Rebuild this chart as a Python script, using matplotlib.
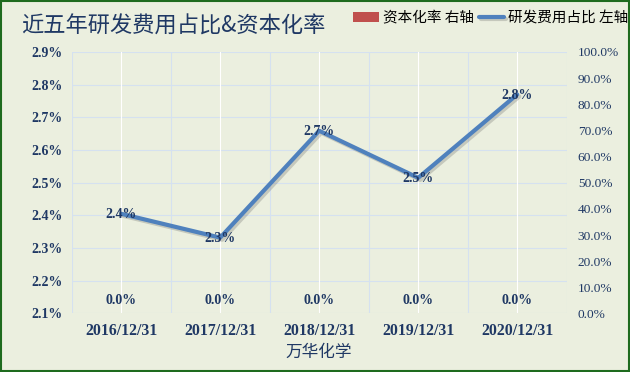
import numpy as np
import matplotlib.pyplot as plt
import matplotlib.patheffects as pe

plt.rcParams['font.family'] = ['Noto Sans CJK SC', 'DejaVu Sans']

# datos
fechas = ['2016/12/31', '2017/12/31', '2018/12/31', '2019/12/31', '2020/12/31']
rd_ratio = [2.405, 2.332, 2.659, 2.515, 2.77]   # 研发费用占比 (%)
cap_rate = [0.0, 0.0, 0.0, 0.0, 0.0]            # 资本化率 (%)
left_ticks = [2.1, 2.2, 2.3, 2.4, 2.5, 2.6, 2.7, 2.8, 2.9]
right_ticks = list(range(0, 101, 10))

navy = '#1F3864'
bg = '#EBEFDF'
grid_c = '#D5E1F0'

fig = plt.figure(figsize=(6.3, 3.72), dpi=100, facecolor=bg)
fig.patches.append(plt.Rectangle((0.0015, 0.0025), 0.997, 0.995, transform=fig.transFigure,
                                 fill=False, edgecolor='#1E6B1E', linewidth=1.5))

ax = fig.add_axes([0.1138, 0.1573, 0.7857, 0.703])
ax2 = ax.twinx()

x = np.arange(len(fechas))

# barras (资本化率, eje derecho)
bars = ax2.bar(x, cap_rate, width=0.5, color='#C0504D', label='资本化率 右轴')
for xi, v in zip(x, cap_rate):
    ax2.annotate('%.1f%%' % v, (xi, v), xytext=(0, 9), textcoords='offset points',
                 ha='center', va='center', fontsize=10, fontweight='bold',
                 family='Liberation Serif', color=navy)
ax2.set_ylim(0, 100)
ax2.set_yticks(right_ticks)
ax2.set_yticklabels(['%.1f%%' % t for t in right_ticks], family='Liberation Serif',
                    fontsize=9.6, color=navy)

# linea (研发费用占比, eje izquierdo) por encima de las barras
ax.set_zorder(ax2.get_zorder() + 1)
ax.patch.set_visible(False)
ax2.patch.set_facecolor(bg)
line, = ax.plot(x, rd_ratio, color='#4F81BD', linewidth=3, label='研发费用占比 左轴',
                solid_capstyle='round',
                path_effects=[pe.SimpleLineShadow(offset=(1.5, -1.5), alpha=0.25, shadow_color='#555555'),
                              pe.Normal()])
for xi, v in zip(x, rd_ratio):
    ax.annotate('%.1f%%' % v, (xi, v), xytext=(0, -0.5), textcoords='offset points',
                ha='center', va='center', fontsize=10, fontweight='bold',
                family='Liberation Serif', color=navy)

ax.set_ylim(2.1, 2.9)
ax.set_yticks(left_ticks)
ax.set_yticklabels(['%.1f%%' % t for t in left_ticks], family='Liberation Serif',
                   fontsize=10, fontweight='bold', color=navy)
ax.set_xlim(-0.5, len(fechas) - 0.5)
ax.set_xticks(x)
ax.set_xticklabels(fechas, family='Liberation Serif', fontsize=11.4, fontweight='bold', color=navy)
ax.set_xlabel('万华化学', fontsize=12, color=navy, labelpad=3)

# rejilla
for yv in left_ticks:
    ax2.axhline((yv - 2.1) / 0.8 * 100, color=grid_c, linewidth=0.8, zorder=0)
for xv in np.arange(-0.5, len(fechas), 1.0):
    ax2.axvline(xv, color=grid_c, linewidth=0.8, zorder=0)
for xv in x:
    ax2.axvline(xv, color='white', linewidth=0.8, zorder=0)

for a in (ax, ax2):
    for s in a.spines.values():
        s.set_visible(False)
    a.tick_params(length=0)
ax.tick_params(axis='y', pad=6.8)
ax.tick_params(axis='x', pad=7)
ax2.tick_params(axis='y', pad=8)

fig.text(0.033, 0.929, '近五年研发费用占比&资本化率', fontsize=16, color=navy, va='center')
fig.legend(handles=[bars, line], loc='center right', bbox_to_anchor=(0.997, 0.951), ncol=2,
           frameon=False, fontsize=10.5, handlelength=1.75, handletextpad=0.25, columnspacing=0.35,
           borderaxespad=0.0, borderpad=0.0)

fig.savefig('out.png', dpi=100, facecolor=bg)
